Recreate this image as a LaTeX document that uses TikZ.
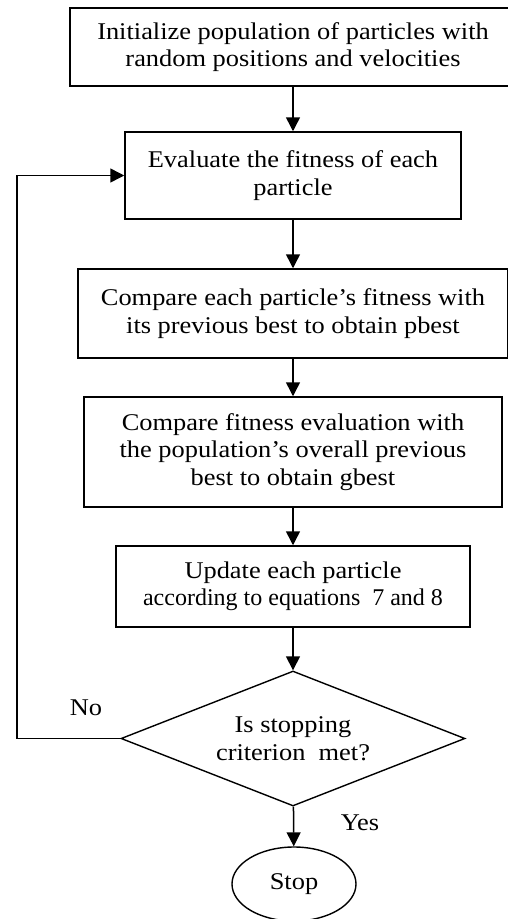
\documentclass[tikz,border=0pt]{standalone}
\usepackage{fontspec}
\setmainfont{Liberation Serif}[FakeStretch=1.1]
\newfontfamily\plainserif{Liberation Serif}
\usetikzlibrary{shapes.geometric,arrows.meta}
\begin{document}
\begin{tikzpicture}[x=1pt,y=-1pt,
  every node/.style={font=\fontsize{24}{27.5}\selectfont},
  procbox/.style={draw, line width=1.5pt, rectangle, align=center, inner sep=0pt},
  decision/.style={draw, line width=1.4pt, diamond, aspect=2.55, align=center, inner sep=0pt},
  terminal/.style={draw, line width=1.4pt, ellipse, inner sep=0pt},
  arr/.style={-{Triangle[width=14pt,length=14pt]}, line width=1.5pt},
  lbl/.style={inner sep=0pt}]
\useasboundingbox (0,0) rectangle (507,919);
\node[procbox, minimum width=446pt, minimum height=78pt] (b1) at (293,47)
  {Initialize population of particles with\\random positions and velocities};
\node[procbox, minimum width=336pt, minimum height=87pt] (b2) at (293,175.5)
  {Evaluate the fitness of each\\particle};
\node[procbox, minimum width=430pt, minimum height=89pt] (b3) at (293,313.5)
  {Compare each particle’s fitness with\\its previous best to obtain pbest};
\node[procbox, minimum width=418pt, minimum height=110pt] (b4) at (293,452)
  {Compare fitness evaluation with\\the population’s overall previous\\best to obtain gbest};
\node[procbox, minimum width=354pt, minimum height=81pt] (b5) at (293,586.5)
  {Update each particle\\{\plainserif according to equations\ \ 7 and 8}};
\node[decision, minimum width=344pt, minimum height=135pt] (d) at (293,738.5)
  {Is stopping\\criterion\ \ met?};
\node[terminal, minimum width=124pt, minimum height=74pt] (stop) at (294,884) {Stop};
\coordinate (loopcorner) at (17,738.5);
\node[lbl] (no) at (86,708) {No};
\node[lbl] (yes) at (360,823) {Yes};
\draw[arr] (b1) -- (b2);
\draw[arr] (b2) -- (b3);
\draw[arr] (b3) -- (b4);
\draw[arr] (b4) -- (b5);
\draw[arr] (b5) -- (d);
\draw[arr] (d) -- (stop);
\draw[arr] (d.west) -- (loopcorner) |- (b2.west);
\end{tikzpicture}
\end{document}
